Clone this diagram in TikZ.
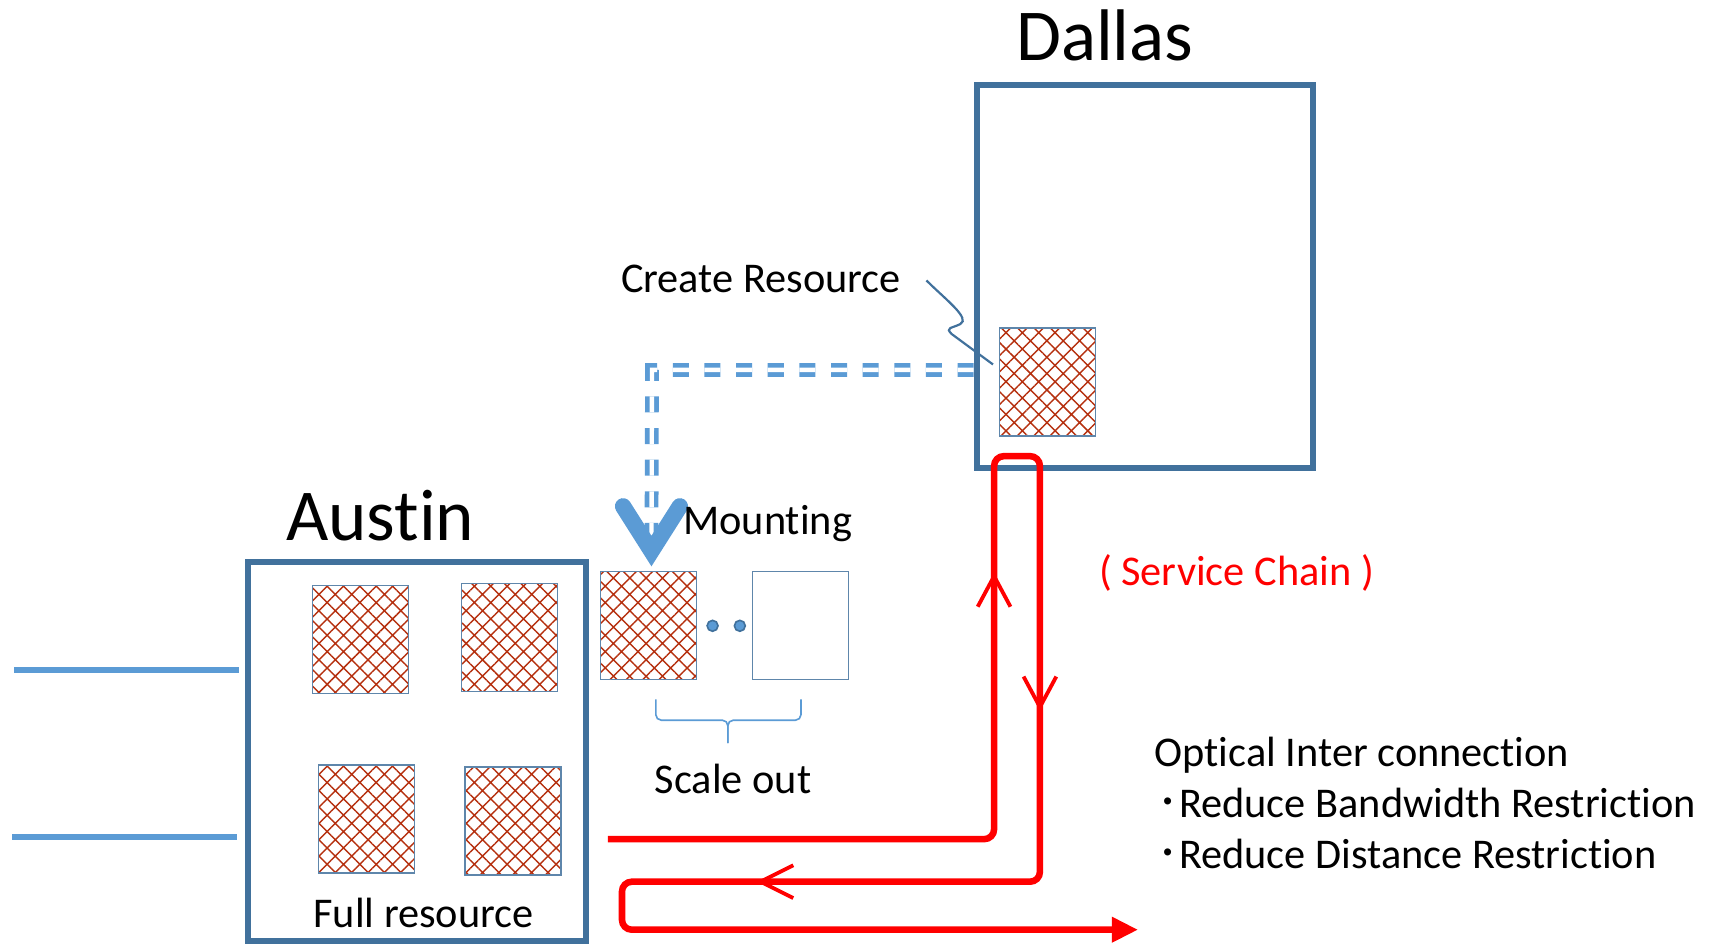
\documentclass[tikz,border=0pt]{standalone}
\usepackage{fontspec}
\setmainfont{Carlito}[Ligatures=NoCommon]
\newfontfamily\cjk{Noto Sans CJK JP}
\usetikzlibrary{patterns.meta,arrows.meta}

\definecolor{boxblue}{HTML}{41719C}
\definecolor{lineblue}{HTML}{5B9BD5}
\definecolor{hatchred}{HTML}{B5300F}
\definecolor{chainred}{HTML}{FF0000}

\begin{document}
\begin{tikzpicture}[x=1pt,y=-1pt,
  site/.style={draw=boxblue, line width=5.5pt, inner sep=0pt},
  server/.style={draw=boxblue!85, line width=1.2pt, inner sep=0pt,
    minimum width=88pt, minimum height=99pt,
    pattern color=hatchred,
    pattern={Hatch[angle=45,distance=10.6pt,line width=1.3pt]}},
  spare/.style={draw=boxblue!85, line width=1.2pt, inner sep=0pt,
    minimum width=88pt, minimum height=99pt, fill=white},
  label/.style={inner sep=0pt, anchor=base west, font=\fontsize{38.8}{40}\selectfont},
  title/.style={inner sep=0pt, anchor=base west, font=\fontsize{67}{70}\selectfont},
  feed/.style={draw=lineblue, line width=6pt},
  mountline/.style={draw=lineblue, line width=4.3pt, double=white,
    double distance=4pt, dash pattern=on 14.7pt off 14.3pt},
  vhead/.style={draw=lineblue, line width=15pt, line cap=round, line join=miter},
  chain/.style={draw=chainred, line width=6pt, rounded corners=9pt},
  chev/.style={draw=chainred, line width=3.5pt},
  dot/.style={circle, fill=lineblue, draw=boxblue, line width=1.5pt,
    minimum size=10pt, inner sep=0pt},
  brace/.style={draw=lineblue, line width=1.5pt, rounded corners=5pt},
  callout/.style={draw=boxblue, line width=2pt},
]
\useasboundingbox (0,0) rectangle (1568,867);

% sites
\node[site, minimum width=308pt, minimum height=351pt] (dallas) at (1049,253.5) {};
\node[site, minimum width=310pt, minimum height=347pt] (austin) at (382,688.5) {};
\node[title] (dallasT) at (931,55) {Dallas};
\node[title] (austinT) at (262,495) {Austin};

% resources in Austin
\node[server] (a1) at (330.5,586) {};
\node[server] (a2) at (467,584) {};
\node[server] (a3) at (336,750.5) {};
\node[server] (a4) at (470,752.5) {};
\node[label] (full) at (287,850) {Full resource};

% resource created in Dallas
\node[server] (d1) at (960,350) {};

% scaled-out resources
\node[server] (m1) at (594.5,573.5) {};
\node[spare] (m2) at (733.5,573.5) {};
\node[dot] (dot1) at (653,573.5) {};
\node[dot] (dot2) at (678,573.5) {};

% external links into Austin
\coordinate (feedA) at (13,614);
\coordinate (feedB) at (11,767);
\draw[feed, shorten >=5pt] (feedA) -- (austin.west |- feedA);
\draw[feed, shorten >=7pt] (feedB) -- (austin.west |- feedB);

% create resource callout
\node[label] (create) at (569,268) {Create Resource};
\draw[callout] (849,257) .. controls (866,274) and (890,292) .. (880,297)
  .. controls (872,301) and (866,300) .. (872,306) -- (910,334);

% mounting path
\coordinate (bend) at (597.5,339);
\coordinate (mount) at (597,505);
\draw[mountline] (dallas.west |- bend) -- (bend) -- (mount);
\draw[vhead] (mount) ++(-26,-41) -- (mount) -- ++(26,-41);
\node[label] (mounting) at (626,490) {Mounting};

% scale out brace
\draw[brace] (601,641) -- (601,660) -- (667,660) -- (667,681);
\draw[brace] (734,641) -- (734,660) -- (667,660) -- (667,681);
\node[label] (scale) at (600,727) {Scale out};

% service chain
\coordinate (chainIn) at (557,769);
\coordinate (chainOut) at (1043,852);
\draw[chain, -{Triangle[length=24pt,width=22pt]}] (chainIn) -- (911,769) -- (911,418)
  -- (953,418) -- (953,808) -- (570,808) -- (570,852) -- (chainOut);
\coordinate (up) at (911,528);
\coordinate (down) at (953,648);
\coordinate (back) at (697,808);
\draw[chev] (up) ++(-15,28) -- (up) -- ++(15,28);
\draw[chev] (down) ++(-15,-28) -- (down) -- ++(15,-28);
\draw[chev] (back) ++(30,-15) -- (back) -- ++(30,15);
\node[label, text=chainred] (svc) at (1007,537) {( Service Chain )};

% notes
\node[label] (opt) at (1058,702) {Optical Inter connection};
\node[label] (bw) at (1061,749) {{\cjk ･}Reduce Bandwidth Restriction};
\node[label] (dist) at (1061,796) {{\cjk ･}Reduce Distance Restriction};
\end{tikzpicture}
\end{document}
